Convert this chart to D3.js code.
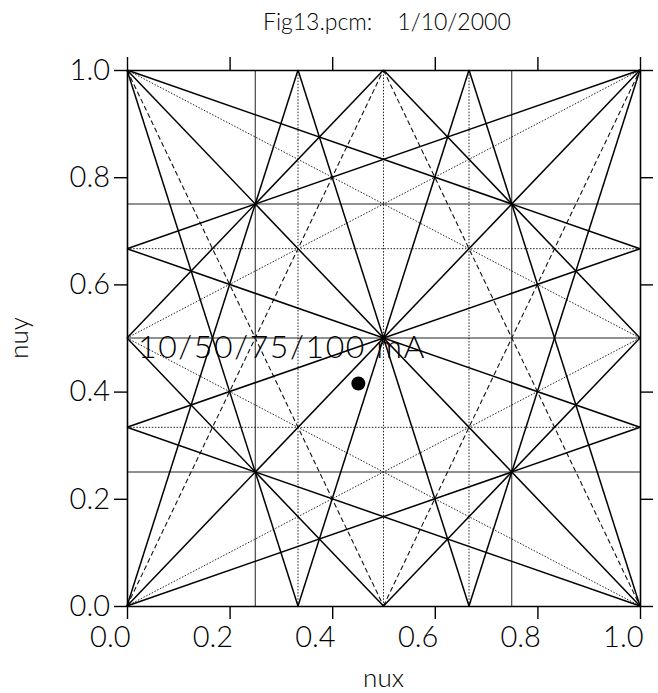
<!DOCTYPE html>
<html>
<head>
<meta charset="utf-8">
<script src="https://cdn.jsdelivr.net/npm/d3@7"></script>
<style>
  body { margin: 0; background: #fff; }
  text { font-family: Lato, "Liberation Sans", Arial, sans-serif; font-weight: 300; fill: #000; }
</style>
</head>
<body>
<div class="container"></div>
<script>
var width = 658,
    height = 693,
    margin = {top: 70, right: 18, bottom: 87, left: 127};

// resonance lines m*nux + n*nuy = p, as [m, n, p]
var gridSolid = [[4,0,1],[4,0,3],[0,4,1],[0,4,3],[0,2,1]];
var coupledSolid = [[1,1,1],[1,-1,0],
  [3,1,1],[3,1,2],[3,1,3],[1,3,1],[1,3,2],[1,3,3],
  [3,-1,0],[3,-1,1],[3,-1,2],[1,-3,0],[1,-3,-1],[1,-3,-2],
  [2,2,1],[2,2,3],[2,-2,1],[2,-2,-1]];
var dashedLines = [[2,1,1],[2,1,2],[2,-1,0],[2,-1,1]];
var dottedLines = [[1,2,1],[1,2,2],[1,-2,0],[1,-2,-1],
  [3,0,1],[3,0,2],[0,3,1],[0,3,2],[2,0,1]];

// working point
var tunePoint = [[0.451, 0.415]];
var tickValues = [0, 0.2, 0.4, 0.6, 0.8, 1.0];
var title = "Fig13.pcm:    1/10/2000";
var note = "10/50/75/100 mA";

var x = d3.scaleLinear().domain([0, 1]).range([margin.left, width - margin.right]);
var y = d3.scaleLinear().domain([0, 1]).range([height - margin.bottom, margin.top]);

var svg = d3.select(".container").append("svg")
    .attr("width", width)
    .attr("height", height);

// clip the line m*x+n*y=p to the unit square
function segment(r) {
  var m = r[0], n = r[1], p = r[2], pts = [];
  if (n === 0) return [[p / m, 0], [p / m, 1]];
  if (m === 0) return [[0, p / n], [1, p / n]];
  [0, 1].forEach(function(xv) {
    var yv = (p - m * xv) / n;
    if (yv >= -1e-9 && yv <= 1 + 1e-9) pts.push([xv, yv]);
  });
  [0, 1].forEach(function(yv) {
    var xv = (p - n * yv) / m;
    if (xv >= -1e-9 && xv <= 1 + 1e-9) pts.push([xv, yv]);
  });
  pts.sort(function(a, b) { return a[0] - b[0] || a[1] - b[1]; });
  return [pts[0], pts[pts.length - 1]];
}

var line = d3.line()
    .x(function(d) { return x(d[0]); })
    .y(function(d) { return y(d[1]); });

function drawSet(set, cls, stroke, sw, dash) {
  svg.append("g").attr("class", cls)
    .selectAll("path")
    .data(set.map(segment))
    .enter().append("path")
    .attr("d", line)
    .attr("fill", "none")
    .attr("stroke", stroke)
    .attr("stroke-width", sw)
    .attr("stroke-dasharray", dash);
}

drawSet(dottedLines, "dotted", "#222", 1, "1.5,1.6");
drawSet(dashedLines, "dashed", "#111", 1.1, "5,3");
drawSet(gridSolid, "grid", "#222", 1, null);
drawSet(coupledSolid, "coupled", "#000", 1.5, null);

// working point
svg.selectAll(".pt")
  .data(tunePoint)
  .enter().append("circle")
  .attr("class", "pt")
  .attr("cx", function(d) { return x(d[0]); })
  .attr("cy", function(d) { return y(d[1]); })
  .attr("r", 7)
  .attr("fill", "#000");

// ---------- AXES ----------
var fmt = d3.format(".1f");
function styleAxis(g) {
  g.select(".domain").attr("stroke", "#000").attr("stroke-width", 1.6);
  g.selectAll(".tick line").attr("stroke", "#000").attr("stroke-width", 1.4);
  g.selectAll(".tick text").attr("font-size", 29).attr("fill", "#000")
    .attr("font-family", null);
}

svg.append("g")
  .attr("transform", "translate(0," + y(0) + ")")
  .call(d3.axisBottom(x).tickValues(tickValues).tickFormat(fmt).tickSize(13).tickSizeOuter(0).tickPadding(7))
  .call(styleAxis)
  .selectAll(".tick text")
    .attr("text-anchor", "end")
    .attr("dx", 3);

svg.append("g")
  .attr("transform", "translate(0," + y(1) + ")")
  .call(d3.axisTop(x).tickValues(tickValues).tickFormat("").tickSize(13).tickSizeOuter(0))
  .call(styleAxis);

svg.append("g")
  .attr("transform", "translate(" + x(0) + ",0)")
  .call(d3.axisLeft(y).tickValues(tickValues).tickFormat(fmt).tickSize(13).tickSizeOuter(0).tickPadding(4))
  .call(styleAxis);

svg.append("g")
  .attr("transform", "translate(" + x(1) + ",0)")
  .call(d3.axisRight(y).tickValues(tickValues).tickFormat("").tickSize(13).tickSizeOuter(0))
  .call(styleAxis);

// ---------- TEXT ----------
svg.append("text")
  .attr("x", 263)
  .attr("y", 30)
  .attr("font-size", 23)
  .style("white-space", "pre")
  .text(title);

svg.append("text")
  .attr("x", 138)
  .attr("y", 358)
  .attr("font-size", 32)
  .attr("letter-spacing", 1.6)
  .text(note);

svg.append("text")
  .attr("x", x(0.5))
  .attr("y", 687)
  .attr("text-anchor", "middle")
  .attr("font-size", 26)
  .text("nux");

svg.append("text")
  .attr("transform", "translate(28," + y(0.5) + ") rotate(-90)")
  .attr("text-anchor", "middle")
  .attr("font-size", 26)
  .text("nuy");
</script>
</body>
</html>
